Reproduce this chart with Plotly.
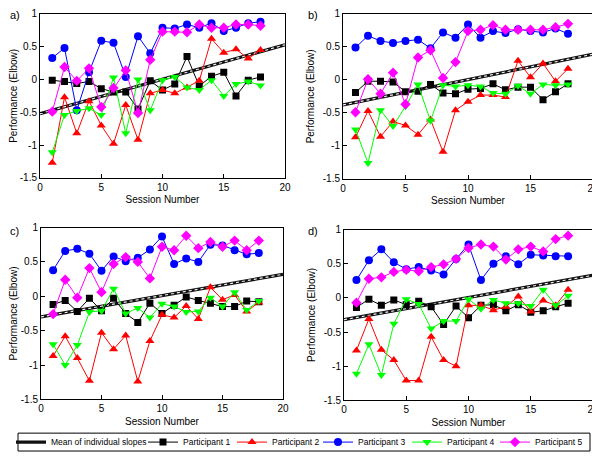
import plotly.graph_objects as go

sessions = list(range(1, 19))

# Panel a
a_p1 = [-0.01, -0.03, -0.06, -0.03, -0.14, -0.19, -0.19, -0.45, -0.02, -0.16, -0.07, 0.35, -0.10, 0.05, 0.11, -0.25, -0.01, 0.04]
a_p2 = [-1.27, -0.27, -0.82, -0.33, -0.70, -0.98, -0.39, -0.92, -0.21, -0.16, -0.21, -0.12, -0.02, 0.62, 0.41, 0.46, 0.32, 0.45]
a_p3 = [0.33, 0.48, -0.47, 0.11, 0.59, 0.56, 0.04, 0.66, 0.40, 0.79, 0.78, 0.84, 0.79, 0.86, 0.74, 0.79, 0.86, 0.88]
a_p4 = [-1.11, -0.54, -0.48, -0.44, -0.54, 0.03, -0.82, 0.00, -0.47, -0.01, 0.04, -0.12, -0.16, -0.01, -0.25, -0.07, -0.03, -0.09]
a_p5 = [-0.49, 0.19, -0.02, 0.17, -0.42, -0.13, 0.14, -0.51, 0.30, 0.73, 0.73, 0.72, 0.84, 0.79, 0.79, 0.84, 0.84, 0.82]
a_mean = [-0.52, 0.53]

# Panel b
b_p1 = [-0.19, -0.02, -0.02, -0.03, -0.18, -0.17, -0.07, -0.20, -0.21, -0.14, -0.13, -0.06, -0.15, -0.11, -0.11, -0.30, -0.18, -0.06]
b_p2 = [-0.87, -0.47, -0.86, -0.63, -0.69, -0.83, -0.60, -1.09, -0.46, -0.33, -0.23, -0.23, -0.26, 0.29, 0.04, 0.25, -0.02, 0.17]
b_p3 = [0.49, 0.67, 0.59, 0.56, 0.59, 0.61, 0.48, 0.72, 0.64, 0.84, 0.64, 0.74, 0.71, 0.77, 0.74, 0.72, 0.78, 0.70]
b_p4 = [-0.75, -1.26, -0.46, -0.70, -0.40, -0.07, -0.62, -0.08, -0.10, -0.08, -0.10, -0.20, -0.21, -0.09, -0.21, -0.07, -0.08, -0.07]
b_p5 = [-0.49, 0.01, -0.21, 0.11, -0.37, 0.34, 0.45, 0.03, 0.27, 0.74, 0.76, 0.83, 0.76, 0.76, 0.76, 0.76, 0.80, 0.85]
b_mean = [-0.38, 0.39]

# Panel c
c_p1 = [-0.12, -0.06, -0.22, -0.03, -0.21, -0.03, -0.25, -0.38, -0.10, -0.25, -0.13, -0.01, -0.06, -0.10, -0.15, -0.15, -0.07, -0.08]
c_p2 = [-0.87, -0.58, -0.90, -1.23, -0.53, -0.77, -0.57, -1.24, -0.65, -0.27, -0.31, -0.14, -0.33, 0.13, -0.05, 0.02, -0.22, -0.09]
c_p3 = [0.38, 0.66, 0.69, 0.62, 0.37, 0.58, 0.51, 0.56, 0.68, 0.87, 0.47, 0.55, 0.50, 0.75, 0.74, 0.67, 0.61, 0.63]
c_p4 = [-0.70, -1.00, -0.71, -0.23, -0.21, 0.11, -0.25, -0.17, -0.31, -0.11, -0.15, -0.23, -0.22, -0.02, -0.15, 0.06, -0.20, -0.07]
c_p5 = [-0.26, 0.24, -0.02, 0.41, 0.06, 0.47, 0.57, 0.50, 0.26, 0.72, 0.67, 0.88, 0.70, 0.79, 0.72, 0.81, 0.67, 0.81]
c_mean = [-0.30, 0.32]

# Panel d
d_p1 = [-0.14, -0.02, -0.11, -0.03, -0.10, -0.05, -0.13, -0.39, -0.12, -0.29, -0.11, -0.10, -0.19, -0.10, -0.21, -0.19, -0.13, -0.08]
d_p2 = [-0.77, -0.31, -0.76, -0.91, -1.21, -1.21, -0.57, -0.91, -1.00, -0.11, -0.11, -0.18, -0.13, 0.02, -0.20, -0.04, -0.11, 0.12]
d_p3 = [0.26, 0.55, 0.71, 0.52, 0.42, 0.45, 0.40, 0.34, 0.57, 0.78, 0.26, 0.50, 0.61, 0.49, 0.63, 0.62, 0.61, 0.61]
d_p4 = [-1.11, -0.68, -1.13, -0.38, -0.02, -0.09, -0.45, -0.34, -0.34, -0.02, -0.16, -0.03, -0.08, -0.08, -0.12, 0.12, -0.11, 0.03]
d_p5 = [-0.07, 0.28, 0.30, 0.38, 0.41, 0.39, 0.45, 0.49, 0.57, 0.73, 0.78, 0.75, 0.56, 0.71, 0.75, 0.68, 0.86, 0.91]
d_mean = [-0.32, 0.33]

mean_x = [0, 20]
panel_labels = ["a)", "b)", "c)", "d)"]
series_names = ["Participant 1", "Participant 2", "Participant 3", "Participant 4", "Participant 5"]
x_ticks = [0, 5, 10, 15, 20]
y_ticks = [-1.5, -1, -0.5, 0, 0.5, 1]
y_tick_text = ["-1.5", "-1", "-0.5", "0", "0.5", "1"]

panels = [
    (a_p1, a_p2, a_p3, a_p4, a_p5, a_mean),
    (b_p1, b_p2, b_p3, b_p4, b_p5, b_mean),
    (c_p1, c_p2, c_p3, c_p4, c_p5, c_mean),
    (d_p1, d_p2, d_p3, d_p4, d_p5, d_mean),
]

colors = ["#000000", "#ff0000", "#0000ff", "#00ff00", "#ff00ff"]
symbols = ["square", "triangle-up", "circle", "triangle-down", "diamond"]
sizes = [7, 8, 8, 8, 8]

# The page body has an 8px default margin, so the figure is drawn 8px smaller
OFF = 8
W, H = 600 - OFF, 457 - OFF
# pixel boxes in the window (left, right, top, bottom)
boxes = [(40, 285, 14, 179), (343, 593, 14, 180), (41, 283, 229, 402), (344, 593, 231, 403)]
# legend entry left positions (px): mean, P1..P5
legend_x = [21, 153, 242, 328, 417, 505]
legend_box = (18, 590, 436, 454)


def clamp(v):
    return min(1.0, max(0.0, v))


def px(v):
    return (v - OFF) / W


def py(v):
    return 1 - (v - OFF) / H


fig = go.Figure()
FONT = "Liberation Sans, Arial, sans-serif"
LEG_OFF = 10

for i, data in enumerate(panels):
    n = "" if i == 0 else str(i + 1)
    xa = "x" + n
    ya = "y" + n
    series = data[:5]
    mean = data[5]
    fig.add_trace(go.Scatter(x=mean_x, y=mean, mode="lines", xaxis=xa, yaxis=ya,
                             line=dict(color="#111111", width=3.2),
                             name="Mean of individual slopes", showlegend=(i == 0),
                             legend="legend"))
    fig.add_trace(go.Scatter(x=mean_x, y=mean, mode="lines", xaxis=xa, yaxis=ya,
                             line=dict(color="#eeeeee", width=1.2, dash="dot"),
                             showlegend=False, hoverinfo="skip"))
    for k, s in enumerate(series):
        fig.add_trace(go.Scatter(x=sessions, y=s, mode="lines+markers", xaxis=xa, yaxis=ya,
                                 line=dict(color=colors[k], width=1),
                                 marker=dict(symbol=symbols[k], size=sizes[k], color=colors[k],
                                             line=dict(width=0)),
                                 name=series_names[k], showlegend=(i == 0),
                                 legend="legend" + str(k + 2)))
    l, r, t, b = boxes[i]
    axis_common = dict(showline=True, linecolor="black", linewidth=1, mirror=True,
                       ticks="inside", ticklen=4, tickcolor="black", showgrid=False,
                       zeroline=False, automargin=False, ticklabeloverflow="allow",
                       tickfont=dict(family=FONT, size=10, color="black"))
    fig.layout["xaxis" + n] = dict(domain=[clamp(px(l)), clamp(px(r))], anchor=ya, range=[0, 20],
                                   tickvals=x_ticks,
                                   title=dict(text="Session Number", standoff=4,
                                              font=dict(family=FONT, size=10, color="black")),
                                   **axis_common)
    fig.layout["yaxis" + n] = dict(domain=[clamp(py(b)), clamp(py(t))], anchor=xa, range=[-1.5, 1],
                                   tickvals=y_ticks, ticktext=y_tick_text,
                                   title=dict(text="Performance (Elbow)", standoff=6,
                                              font=dict(family=FONT, size=10, color="black")),
                                   **axis_common)
    lx = 8 if l < 300 else 306
    ly = 15 if t < 100 else 233
    fig.add_annotation(x=px(lx), y=py(ly), xref="paper", yref="paper", text=panel_labels[i],
                       showarrow=False, xanchor="left", yanchor="middle",
                       font=dict(family=FONT, size=11, color="black"))

bl, br, bt, bb = legend_box
fig.add_shape(type="rect", xref="paper", yref="paper", x0=px(bl), x1=px(br),
              y0=py(bb), y1=py(bt), line=dict(color="black", width=1),
              fillcolor="white", layer="below")

leg_common = dict(orientation="h", yanchor="middle", y=py(445), xanchor="left",
                  bgcolor="rgba(0,0,0,0)", borderwidth=0,
                  font=dict(family=FONT, size=8.5, color="black"), itemwidth=30)
legend_layout = {}
for j, lxp in enumerate(legend_x):
    key = "legend" if j == 0 else "legend" + str(j + 1)
    legend_layout[key] = dict(x=px(lxp - LEG_OFF), **leg_common)

fig.update_layout(
    template="none",
    width=W, height=H, margin=dict(l=0, r=0, t=0, b=0, pad=0),
    paper_bgcolor="white", plot_bgcolor="white",
    showlegend=True,
    **legend_layout,
)

fig.write_html("out.html")
